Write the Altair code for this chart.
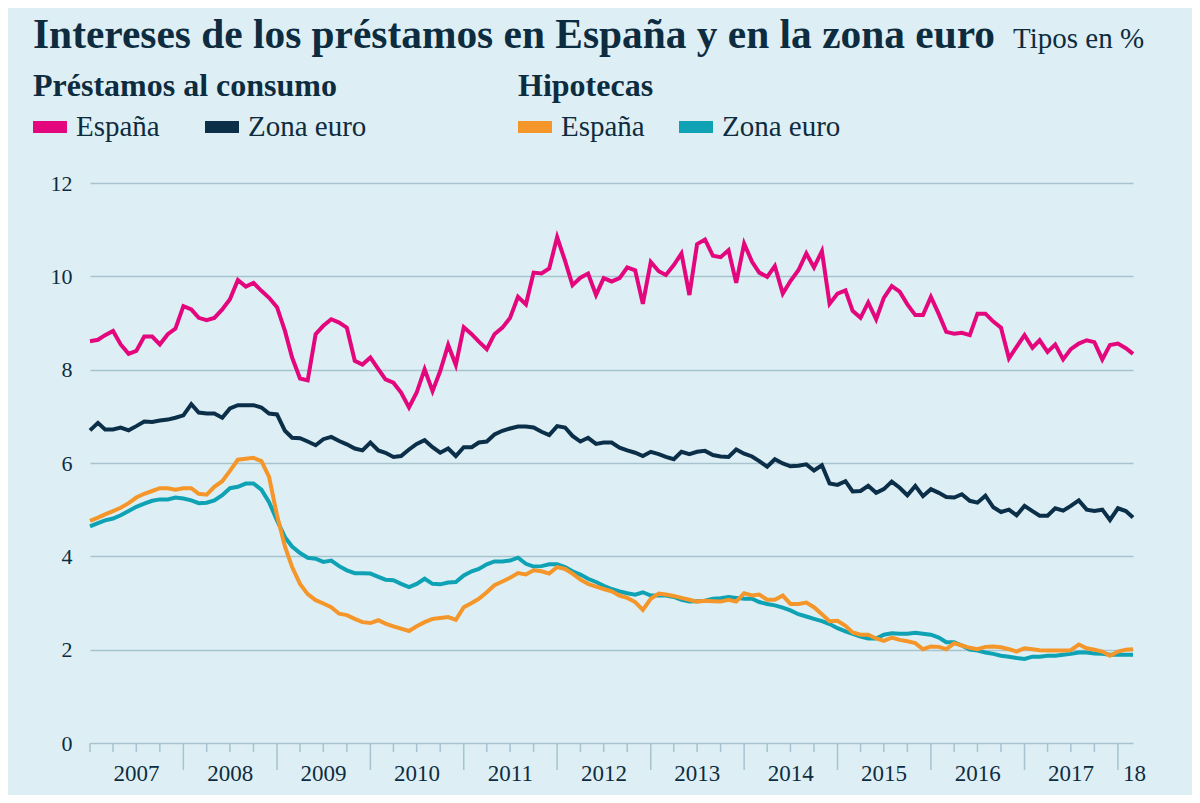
import altair as alt
import pandas as pd

# ---------------- data ----------------
START = "2007-01"
N_MONTHS = 135  # Jan 2007 .. Mar 2018

consumo_espana = [
    8.61, 8.64, 8.74, 8.83, 8.54, 8.34, 8.40, 8.71, 8.71, 8.54, 8.76, 8.88,
    9.36, 9.29, 9.11, 9.06, 9.11, 9.29, 9.51, 9.92, 9.78, 9.86, 9.69, 9.54,
    9.34, 8.83, 8.26, 7.81, 7.77, 8.76, 8.94, 9.08, 9.01, 8.90, 8.19, 8.11,
    8.26, 8.01, 7.79, 7.72, 7.51, 7.19, 7.51, 8.01, 7.54, 7.97, 8.53, 8.10,
    8.91, 8.76, 8.60, 8.44, 8.76, 8.90, 9.11, 9.56, 9.40, 10.08, 10.06, 10.17,
    10.84, 10.33, 9.81, 9.97, 10.06, 9.60, 9.96, 9.89, 9.96, 10.19, 10.13, 9.41,
    10.31, 10.11, 10.03, 10.24, 10.49, 9.60, 10.69, 10.79, 10.44, 10.41, 10.56, 9.86,
    10.70, 10.31, 10.08, 9.99, 10.22, 9.63, 9.90, 10.13, 10.49, 10.19, 10.54, 9.41,
    9.63, 9.70, 9.26, 9.11, 9.44, 9.08, 9.54, 9.79, 9.67, 9.40, 9.17, 9.17,
    9.56, 9.19, 8.81, 8.77, 8.79, 8.74, 9.20, 9.20, 9.03, 8.90, 8.24, 8.49,
    8.74, 8.47, 8.63, 8.38, 8.54, 8.22, 8.44, 8.56, 8.63, 8.59, 8.22, 8.53,
    8.56, 8.46, 8.34,
]
consumo_zona_euro = [
    6.70, 6.86, 6.72, 6.72, 6.76, 6.70, 6.79, 6.89, 6.88, 6.91, 6.93, 6.97,
    7.02, 7.26, 7.08, 7.06, 7.06, 6.97, 7.17, 7.24, 7.24, 7.24, 7.19, 7.06,
    7.04, 6.69, 6.54, 6.53, 6.46, 6.38, 6.51, 6.56, 6.47, 6.40, 6.31, 6.27,
    6.44, 6.27, 6.22, 6.13, 6.15, 6.29, 6.41, 6.49, 6.34, 6.22, 6.31, 6.15,
    6.34, 6.34, 6.44, 6.46, 6.61, 6.69, 6.74, 6.78, 6.78, 6.76, 6.67, 6.60,
    6.79, 6.76, 6.58, 6.46, 6.54, 6.41, 6.44, 6.44, 6.33, 6.27, 6.22, 6.15,
    6.24, 6.19, 6.13, 6.08, 6.24, 6.19, 6.24, 6.26, 6.17, 6.14, 6.13, 6.29,
    6.20, 6.14, 6.04, 5.92, 6.08, 5.99, 5.93, 5.94, 5.97, 5.84, 5.95, 5.56,
    5.53, 5.61, 5.39, 5.40, 5.51, 5.36, 5.44, 5.60, 5.47, 5.31, 5.51, 5.29,
    5.44, 5.36, 5.27, 5.26, 5.33, 5.19, 5.15, 5.30, 5.05, 4.95, 5.00, 4.88,
    5.08, 4.97, 4.87, 4.87, 5.03, 4.98, 5.08, 5.20, 5.00, 4.97, 5.00, 4.78,
    5.03, 4.97, 4.83,
]
hipotecas_espana = [
    4.76, 4.83, 4.90, 4.97, 5.04, 5.14, 5.26, 5.34, 5.40, 5.46, 5.46, 5.43,
    5.46, 5.46, 5.34, 5.32, 5.49, 5.61, 5.83, 6.07, 6.09, 6.11, 6.04, 5.70,
    4.88, 4.21, 3.77, 3.41, 3.19, 3.06, 2.99, 2.91, 2.77, 2.74, 2.66, 2.59,
    2.57, 2.63, 2.56, 2.50, 2.45, 2.40, 2.50, 2.59, 2.66, 2.68, 2.70, 2.64,
    2.91, 3.00, 3.09, 3.23, 3.38, 3.46, 3.54, 3.64, 3.61, 3.70, 3.68, 3.63,
    3.77, 3.73, 3.63, 3.50, 3.41, 3.35, 3.30, 3.25, 3.16, 3.11, 3.02, 2.85,
    3.09, 3.20, 3.18, 3.15, 3.11, 3.07, 3.03, 3.05, 3.04, 3.03, 3.07, 3.03,
    3.21, 3.16, 3.18, 3.07, 3.07, 3.16, 2.98, 2.98, 3.01, 2.91, 2.76, 2.61,
    2.62, 2.51, 2.37, 2.32, 2.32, 2.24, 2.19, 2.26, 2.21, 2.18, 2.14, 2.01,
    2.07, 2.06, 2.01, 2.14, 2.09, 2.04, 2.01, 2.06, 2.07, 2.05, 2.01, 1.96,
    2.03, 2.01, 1.99, 1.98, 1.98, 1.98, 1.99, 2.11, 2.03, 2.00, 1.96, 1.87,
    1.96, 2.00, 2.01,
]
hipotecas_zona_euro = [
    4.64, 4.71, 4.77, 4.81, 4.88, 4.97, 5.06, 5.13, 5.19, 5.22, 5.22, 5.26,
    5.24, 5.20, 5.14, 5.15, 5.20, 5.31, 5.46, 5.49, 5.56, 5.56, 5.43, 5.16,
    4.77, 4.41, 4.21, 4.07, 3.97, 3.95, 3.88, 3.91, 3.79, 3.70, 3.64, 3.64,
    3.63, 3.56, 3.50, 3.49, 3.41, 3.34, 3.41, 3.52, 3.41, 3.40, 3.44, 3.45,
    3.59, 3.68, 3.73, 3.83, 3.89, 3.89, 3.91, 3.97, 3.84, 3.78, 3.79, 3.83,
    3.83, 3.77, 3.68, 3.61, 3.52, 3.45, 3.37, 3.30, 3.25, 3.21, 3.18, 3.23,
    3.16, 3.16, 3.16, 3.13, 3.07, 3.03, 3.04, 3.05, 3.09, 3.10, 3.13, 3.11,
    3.09, 3.09, 3.02, 2.98, 2.95, 2.90, 2.84, 2.76, 2.71, 2.66, 2.61, 2.55,
    2.46, 2.39, 2.34, 2.28, 2.24, 2.24, 2.32, 2.35, 2.34, 2.34, 2.36, 2.34,
    2.32, 2.26, 2.16, 2.16, 2.09, 2.00, 1.98, 1.94, 1.91, 1.87, 1.85, 1.82,
    1.80, 1.85, 1.85, 1.87, 1.87, 1.89, 1.91, 1.94, 1.94, 1.92, 1.91, 1.89,
    1.89, 1.89, 1.89,
]

series_names = ["España", "Zona euro"]
y_ticks = [0, 2, 4, 6, 8, 10, 12]
year_labels = ["2007", "2008", "2009", "2010", "2011", "2012", "2013",
               "2014", "2015", "2016", "2017"]
last_year_label = "18"

TITLE = "Intereses de los préstamos en España y en la zona euro"
UNITS = "Tipos en %"
GROUP_CONSUMO = "Préstamos al consumo"
GROUP_HIPOTECAS = "Hipotecas"

# ---------------- colours / style ----------------
PINK = "#e4067d"
NAVY = "#0b2f48"
ORANGE = "#f5962a"
TEAL = "#0fa2b4"
BG = "#ddeff4"
GRID = "#a6c3ce"
TEXT = "#0e2c40"
FONT = "Liberation Serif"

# ---------------- tables ----------------
months = pd.date_range(START + "-01", periods=N_MONTHS, freq="MS").strftime("%Y-%m-%dT00:00:00").tolist()

def long_table(es, ze):
    return pd.DataFrame({
        "fecha": months * 2,
        "valor": es + ze,
        "serie": [series_names[0]] * len(es) + [series_names[1]] * len(ze),
    })

consumo_df = long_table(consumo_espana, consumo_zona_euro)
hip_df = long_table(hipotecas_espana, hipotecas_zona_euro)

quarters = pd.date_range("2007-01-01", "2018-01-01", freq="QS")
minor_df = pd.DataFrame({"fecha": [d.strftime("%Y-%m-%dT00:00:00") for d in quarters if not (d.month == 1 and d.year > 2007)]})
major_df = pd.DataFrame({"fecha": [d.strftime("%Y-%m-%dT00:00:00") for d in quarters if d.month == 1 and d.year > 2007]})
years_df = pd.DataFrame({
    "fecha": [f"{y}-07-02T00:00:00" for y in year_labels],
    "etiqueta": year_labels,
})
last_df = pd.DataFrame({"fecha": ["2018-01-01T00:00:00"], "etiqueta": [last_year_label]})

# ---------------- scales ----------------
x_scale = alt.Scale(domain=[alt.DateTime(year=2007, month=1, date=1),
                            alt.DateTime(year=2018, month=3, date=1)])
y_scale = alt.Scale(domain=[0, 12], nice=False)

x_enc = alt.X("fecha:T", scale=x_scale, axis=None)
y_enc = alt.Y("valor:Q", scale=y_scale, title=None,
              axis=alt.Axis(values=y_ticks, grid=True, gridColor=GRID, gridWidth=1.5,
                            domain=False, ticks=False, labelPadding=18,
                            labelFont=FONT, labelFontSize=22, labelColor=TEXT))

def make_legend(title, lx, colpad):
    return alt.Legend(title=title, orient="none", legendX=lx, legendY=-112,
                      direction="horizontal", titleFont=FONT, titleFontSize=32,
                      titleFontWeight="bold", titleColor=TEXT, titlePadding=1,
                      titleLimit=800, labelLimit=400,
                      labelFont=FONT, labelFontSize=29, labelColor=TEXT,
                      labelOffset=3, symbolType="stroke", symbolSize=1156,
                      symbolOffset=-6,
                      symbolStrokeWidth=12, columnPadding=colpad)

consumo = alt.Chart(consumo_df).mark_line(strokeWidth=4).encode(
    x=x_enc, y=y_enc,
    color=alt.Color("serie:N", scale=alt.Scale(domain=series_names, range=[PINK, NAVY]),
                    legend=make_legend(GROUP_CONSUMO, -57, 21)),
)

hip_color = alt.Color("serie:N", scale=alt.Scale(domain=series_names, range=[ORANGE, TEAL]),
                      legend=make_legend(GROUP_HIPOTECAS, 428, 10))
hip_ze = alt.Chart(hip_df).transform_filter(alt.datum.serie == series_names[1]).mark_line(strokeWidth=4).encode(
    x=x_enc, y=y_enc, color=hip_color)
hip_es = alt.Chart(hip_df).transform_filter(alt.datum.serie == series_names[0]).mark_line(strokeWidth=4).encode(
    x=x_enc, y=y_enc, color=hip_color)
hipotecas = alt.layer(hip_ze, hip_es)

minor_ticks = alt.Chart(minor_df).mark_rule(color=GRID, strokeWidth=1.5).encode(
    x=x_enc, y=alt.value(560), y2=alt.value(569))
major_ticks = alt.Chart(major_df).mark_rule(color=GRID, strokeWidth=1.5).encode(
    x=x_enc, y=alt.value(560), y2=alt.value(587))
year_text = alt.Chart(years_df).mark_text(font=FONT, fontSize=23, color=TEXT, baseline="middle", align="center").encode(
    x=x_enc, y=alt.value(591), text="etiqueta:N")
last_text = alt.Chart(last_df).mark_text(font=FONT, fontSize=23, color=TEXT, baseline="middle", align="left", dx=5).encode(
    x=x_enc, y=alt.value(591), text="etiqueta:N")

title_txt = alt.Chart(pd.DataFrame({"t": [TITLE]})).mark_text(
    font=FONT, fontSize=41.4, fontWeight="bold", color=TEXT, align="left", baseline="alphabetic").encode(
    x=alt.value(-57), y=alt.value(-135), text="t:N")
units_txt = alt.Chart(pd.DataFrame({"t": [UNITS]})).mark_text(
    font=FONT, fontSize=29, color=TEXT, align="left", baseline="alphabetic").encode(
    x=alt.value(923), y=alt.value(-135), text="t:N")

chart = alt.layer(
    minor_ticks, major_ticks, year_text, last_text, title_txt, units_txt,
    consumo, hipotecas,
).resolve_scale(color="independent").properties(
    width=1043, height=560,
    autosize=alt.AutoSizeParams(type="none"),
    padding={"left": 82, "top": 175, "right": 59, "bottom": 52},
).configure(background=BG).configure_view(stroke=None)

chart.save("out.html", embed_options={"renderer": "svg", "actions": False})
